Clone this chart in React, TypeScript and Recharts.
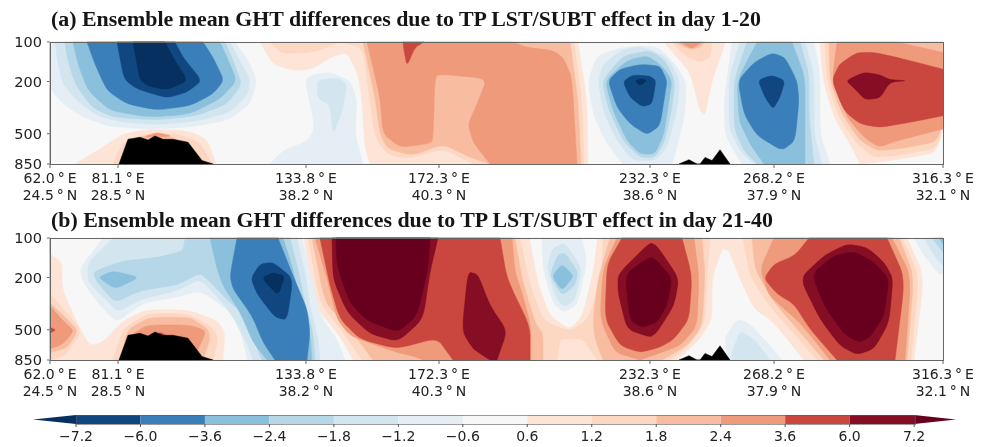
import { Bar, BarChart, Scatter, ScatterChart, XAxis, YAxis } from 'recharts';

type Pt = [number, number];
type Layer = [string, Pt[]];

// x = distance along the section (grid units), y = pressure (hPa)
const sectionTicks = [0, 68, 256, 389, 600, 724, 893];
const lonLabels = ['62.0', '81.1', '133.8', '172.3', '232.3', '268.2', '316.3'];
const latLabels = ['24.5', '28.5', '38.2', '40.3', '38.6', '37.9', '32.1'];
const pressureTicks = [100, 200, 500, 850];
const cbLevels = ['−7.2', '−6.0', '−3.6', '−2.4', '−1.8', '−1.2', '−0.6', '0.6', '1.2', '1.8', '2.4', '3.6', '6.0', '7.2'];
const cbColors = ['#05305f', '#114781', '#3a7fb9', '#8bc0dd', '#b6d7e8', '#d3e6f0', '#e4eef4', '#f7f7f7', '#fde4d6', '#fcd7c2', '#f8bda1', '#ef9a7a', '#c9473f', '#850d24', '#67001f'];
const [N72, N60, N36, N24, N18, N12, N06, ZERO, P06, P12, P18, P24, P36, P60, P72] = cbColors;
const BLACK = '#000000';

const terrainWest: Pt[] = [[69, 850], [78, 551], [90, 532], [98, 558], [105, 520], [113, 551], [123, 551], [138, 580], [152, 800], [163, 850]];
const terrainEast: Pt[] = [[629, 850], [639, 788], [647, 850], [650, 850], [655, 757], [662, 800], [670, 662], [680, 850]];
const wholePlot: Pt[] = [[0, 100], [893, 100], [893, 850], [0, 850]];

// panel (a), day 1-20
const a1N06: Pt[] = [[0, 100], [0, 224], [13, 297], [33, 374], [60, 441], [97, 460], [137, 448], [177, 397], [200, 297], [207, 197], [198, 138], [185, 100]];
const a1N12: Pt[] = [[5, 100], [8, 148], [13, 209], [27, 279], [47, 364], [73, 409], [107, 426], [147, 402], [180, 343], [198, 249], [200, 192], [188, 131], [180, 100]];
const a1N18: Pt[] = [[15, 100], [17, 131], [25, 209], [42, 315], [63, 374], [107, 393], [147, 364], [177, 297], [192, 209], [183, 138], [175, 100]];
const a1N24: Pt[] = [[23, 100], [28, 148], [38, 234], [60, 334], [100, 374], [140, 354], [170, 271], [187, 197], [177, 131], [170, 100]];
const a1N36: Pt[] = [[37, 100], [45, 148], [57, 234], [77, 297], [107, 330], [140, 306], [163, 249], [174, 195], [163, 131], [153, 100]];
const a1N60: Pt[] = [[67, 100], [74, 192], [87, 228], [117, 267], [137, 241], [152, 197], [133, 131], [125, 100]];
const a1N72: Pt[] = [[83, 100], [90, 197], [100, 219], [117, 231], [138, 197], [123, 131], [115, 100]];
const a1P06: Pt[] = [[25, 850], [50, 652], [73, 502], [100, 460], [137, 474], [157, 548], [166, 850]];
const a1P12: Pt[] = [[63, 850], [73, 580], [97, 500], [127, 502], [150, 580], [162, 850]];
const a1P18: Pt[] = [[70, 850], [83, 548], [103, 502], [127, 548], [143, 672], [150, 850]];
const a1P24: Pt[] = [[93, 532], [107, 487], [123, 525]];
const a2N06: Pt[] = [[220, 850], [233, 672], [258, 565], [265, 448], [255, 197], [262, 177], [280, 170], [300, 197], [307, 279], [305, 502], [313, 850]];
const a2N12: Pt[] = [[267, 197], [268, 270], [280, 304], [283, 514], [292, 341], [297, 214], [290, 190], [280, 190]];
const a3P06: Pt[] = [[210, 100], [223, 148], [243, 165], [263, 161], [280, 131], [297, 120], [308, 175], [312, 279], [315, 634], [320, 850], [538, 850], [537, 279], [528, 100]];
const a3P12: Pt[] = [[220, 100], [233, 123], [265, 119], [290, 100], [313, 110], [320, 279], [325, 532], [337, 713], [357, 777], [393, 652], [413, 777], [423, 850], [534, 850], [532, 279], [524, 100]];
const a3P18: Pt[] = [[313, 100], [325, 264], [330, 502], [338, 652], [363, 733], [393, 598], [420, 757], [440, 850], [531, 850], [528, 279], [520, 100]];
const a3P24: Pt[] = [[317, 100], [330, 264], [333, 502], [350, 634], [377, 598], [383, 565], [385, 180], [395, 177], [437, 190], [427, 297], [418, 421], [423, 580], [440, 850], [527, 850], [522, 186], [513, 131], [503, 116], [477, 110], [463, 100]];
const a3P36: Pt[] = [[353, 100], [374, 100], [365, 110], [357, 152], [354, 116]];
const a4N06: Pt[] = [[575, 108], [547, 127], [538, 197], [543, 354], [557, 598], [573, 850], [622, 850], [627, 634], [635, 354], [636, 197], [622, 138], [607, 108]];
const a4N12: Pt[] = [[553, 148], [548, 197], [553, 334], [567, 565], [583, 800], [605, 800], [617, 634], [627, 334], [630, 197], [617, 131], [593, 108], [573, 113]];
const a4N18: Pt[] = [[552, 197], [558, 315], [573, 565], [590, 757], [605, 757], [615, 565], [622, 315], [625, 197], [615, 138], [600, 116], [573, 127]];
const a4N24: Pt[] = [[555, 197], [563, 334], [577, 565], [590, 713], [605, 713], [614, 502], [619, 279], [622, 197], [612, 152], [597, 127], [577, 138]];
const a4N36: Pt[] = [[558, 197], [567, 315], [580, 421], [597, 510], [610, 433], [615, 249], [617, 197], [610, 152], [590, 148], [570, 161]];
const a4N60: Pt[] = [[573, 200], [580, 264], [592, 311], [602, 297], [606, 197], [600, 182], [583, 178]];
const a4N72: Pt[] = [[585, 197], [590, 215], [597, 197], [592, 190]];
const a5P06: Pt[] = [[614, 100], [627, 131], [640, 170], [650, 334], [655, 364], [662, 197], [675, 103], [675, 100]];
const a5P12: Pt[] = [[622, 100], [635, 127], [650, 143], [660, 131], [662, 100]];
const a5P18: Pt[] = [[625, 100], [640, 114], [650, 110], [655, 100]];
const a5P24: Pt[] = [[630, 100], [642, 113], [652, 100]];
const a6N06: Pt[] = [[682, 100], [674, 279], [675, 502], [684, 680], [692, 850], [780, 850], [770, 502], [770, 175], [764, 100]];
const a6N12: Pt[] = [[690, 100], [679, 186], [679, 448], [690, 680], [704, 850], [772, 850], [764, 502], [764, 175], [755, 100]];
const a6N18: Pt[] = [[697, 100], [684, 197], [684, 448], [694, 680], [707, 850], [764, 850], [759, 374], [759, 175], [750, 100]];
const a6N24: Pt[] = [[707, 100], [687, 197], [689, 397], [700, 600], [714, 850], [755, 850], [755, 374], [755, 186], [742, 100]];
const a6N36: Pt[] = [[722, 121], [704, 143], [688, 197], [694, 354], [707, 517], [732, 672], [745, 565], [749, 279], [747, 197], [735, 131]];
const a6N60: Pt[] = [[708, 195], [722, 179], [735, 197], [730, 264], [723, 325], [715, 264]];
const a7P06: Pt[] = [[770, 100], [773, 197], [784, 374], [800, 598], [810, 850], [840, 800], [892, 690], [893, 100]];
const a7P12: Pt[] = [[775, 100], [777, 197], [789, 374], [807, 598], [824, 757], [847, 733], [892, 634], [893, 100]];
const a7P18: Pt[] = [[779, 100], [780, 197], [792, 354], [810, 565], [827, 672], [850, 652], [892, 565], [893, 100]];
const a7P24: Pt[] = [[787, 100], [782, 197], [797, 374], [814, 532], [829, 634], [847, 565], [893, 460], [893, 120], [847, 100]];
const a7P36: Pt[] = [[782, 197], [789, 148], [807, 120], [824, 120], [847, 131], [893, 161], [893, 364], [860, 409], [830, 448], [810, 421], [794, 334]];
const a7P60: Pt[] = [[796, 197], [805, 228], [815, 275], [830, 267], [840, 202], [857, 197], [840, 194], [829, 177], [814, 170]];

// panel (b), day 21-40
const b1P06: Pt[] = [[0, 132], [12, 153], [12, 245], [30, 495], [40, 661], [53, 623], [73, 426], [97, 352], [137, 352], [167, 426], [175, 522], [173, 850], [0, 850]];
const b1P12: Pt[] = [[0, 267], [15, 362], [32, 510], [15, 790], [0, 850]];
const b1P18: Pt[] = [[0, 312], [17, 415], [28, 510], [17, 688], [0, 745]];
const b1P24: Pt[] = [[0, 330], [13, 426], [24, 510], [13, 642], [0, 700]];
const b1P36: Pt[] = [[0, 479], [6, 502], [0, 530]];
const b2P12: Pt[] = [[63, 850], [73, 495], [97, 378], [137, 378], [163, 479], [168, 590], [163, 850]];
const b2P18: Pt[] = [[70, 850], [78, 495], [100, 402], [140, 402], [158, 495], [160, 590], [153, 850]];
const b2P24: Pt[] = [[70, 850], [83, 538], [97, 460], [140, 460], [156, 510], [150, 661], [142, 850]];
const b2P36: Pt[] = [[110, 522], [118, 561], [105, 561]];
const b3N06: Pt[] = [[53, 100], [30, 170], [33, 217], [50, 327], [67, 440], [93, 312], [127, 282], [150, 252], [170, 318], [187, 415], [195, 700], [197, 850], [295, 850], [287, 590], [270, 390], [262, 205], [252, 100]];
const b3N12: Pt[] = [[63, 100], [38, 153], [38, 217], [57, 300], [68, 367], [90, 295], [127, 252], [150, 205], [170, 295], [183, 400], [198, 661], [203, 850], [270, 850], [268, 590], [260, 327], [255, 181], [247, 100]];
const b3N18: Pt[] = [[135, 100], [133, 125], [110, 140], [73, 149], [43, 181], [47, 217], [65, 311], [90, 252], [127, 228], [150, 185], [160, 217], [180, 312], [197, 390], [207, 700], [212, 850], [265, 850], [263, 522], [255, 312], [248, 172], [240, 100]];
const b3N24: Pt[] = [[160, 100], [167, 172], [173, 231], [190, 367], [203, 623], [217, 850], [262, 850], [260, 522], [250, 312], [243, 172], [233, 100]];
const b3N24Patch: Pt[] = [[48, 199], [63, 178], [90, 199], [65, 245]];
const b3N36: Pt[] = [[187, 100], [180, 194], [183, 245], [202, 390], [213, 623], [225, 850], [257, 850], [260, 522], [257, 347], [243, 194], [228, 100]];
const b3N60: Pt[] = [[201, 203], [210, 158], [223, 153], [243, 203], [237, 421], [225, 402], [207, 267]];
const b3N72: Pt[] = [[212, 202], [222, 184], [235, 194], [228, 275]];
const b4P06: Pt[] = [[254, 100], [265, 327], [292, 590], [303, 850], [627, 850], [650, 590], [662, 415], [662, 205], [672, 120], [679, 125], [690, 205], [704, 347], [722, 426], [754, 850], [864, 850], [874, 194], [857, 100]];
const b4P12: Pt[] = [[258, 100], [270, 312], [293, 522], [312, 850], [507, 850], [510, 590], [520, 580], [533, 590], [542, 745], [547, 850], [620, 850], [639, 661], [655, 440], [657, 181], [660, 100], [553, 100], [552, 205], [538, 415], [520, 515], [493, 426], [480, 231], [470, 100]];
const b4P18: Pt[] = [[262, 100], [275, 312], [298, 472], [323, 850], [493, 850], [493, 538], [485, 440], [472, 205], [465, 100]];
const b4P18East: Pt[] = [[560, 100], [548, 205], [543, 415], [545, 590], [553, 850], [612, 850], [637, 660], [652, 472], [655, 194], [652, 100]];
const b4P24: Pt[] = [[265, 100], [278, 217], [287, 415], [300, 555], [327, 661], [347, 745], [365, 800], [373, 850], [481, 850], [481, 472], [472, 260], [465, 181], [462, 100]];
const b4P24East: Pt[] = [[567, 100], [553, 172], [550, 415], [565, 745], [590, 850], [607, 765], [630, 661], [647, 472], [649, 194], [644, 100]];
const b4P36: Pt[] = [[270, 100], [280, 231], [290, 415], [310, 590], [347, 700], [387, 577], [403, 850], [480, 850], [480, 472], [457, 205], [450, 100]];
const b4P36East: Pt[] = [[572, 100], [557, 158], [555, 415], [570, 661], [590, 745], [610, 680], [624, 590], [639, 415], [642, 194], [632, 100]];
const b4P60: Pt[] = [[282, 100], [283, 205], [297, 367], [320, 538], [348, 616], [373, 415], [380, 181], [388, 100]];
const b4P72: Pt[] = [[286, 100], [287, 163], [300, 312], [317, 426], [348, 522], [367, 390], [378, 172], [380, 100]];
const b4P60South: Pt[] = [[418, 181], [428, 190], [440, 327], [457, 510], [447, 850], [440, 850], [423, 700], [412, 510]];
const b4P60East: Pt[] = [[568, 188], [600, 108], [607, 115], [629, 203], [624, 327], [607, 522], [600, 570], [577, 495], [568, 260]];
const b4P72East: Pt[] = [[575, 188], [600, 139], [607, 149], [622, 203], [617, 327], [607, 440], [592, 479], [580, 426]];
const b5Zero: Pt[] = [[480, 100], [488, 217], [500, 390], [520, 495], [532, 390], [543, 181], [547, 100]];
const b5N06: Pt[] = [[492, 100], [493, 172], [503, 312], [513, 367], [527, 327], [537, 153], [532, 100]];
const b5N12: Pt[] = [[502, 120], [497, 172], [507, 295], [515, 335], [525, 295], [532, 172], [515, 108]];
const b5N18: Pt[] = [[507, 136], [500, 194], [512, 275], [525, 231], [528, 181], [515, 129]];
const b5N24: Pt[] = [[502, 195], [512, 158], [524, 195], [512, 252]];
const b6P12: Pt[] = [[693, 100], [700, 194], [717, 312], [740, 495], [767, 850], [861, 850], [869, 194], [852, 100]];
const b6P18: Pt[] = [[702, 100], [705, 172], [722, 295], [745, 472], [774, 850], [857, 850], [864, 194], [849, 100]];
const b6P24: Pt[] = [[724, 100], [710, 172], [719, 275], [750, 440], [780, 850], [855, 850], [861, 194], [842, 100]];
const b6P36: Pt[] = [[759, 100], [745, 136], [724, 158], [714, 203], [727, 267], [744, 318], [760, 495], [787, 850], [845, 850], [855, 203], [837, 100]];
const b6P60: Pt[] = [[750, 203], [774, 136], [797, 111], [817, 118], [834, 153], [843, 203], [839, 440], [824, 700], [807, 774], [790, 661], [770, 415]];
const b6P72: Pt[] = [[762, 188], [784, 136], [804, 127], [824, 153], [839, 205], [834, 390], [820, 570], [809, 623], [794, 538], [774, 327]];
const b6N06: Pt[] = [[674, 590], [687, 415], [700, 450], [720, 661], [732, 850], [679, 850]];
const b6N12: Pt[] = [[682, 745], [690, 510], [704, 590], [720, 850], [682, 850]];
const b7N06: Pt[] = [[864, 100], [874, 136], [889, 188], [893, 188], [893, 100]];
const b7N12: Pt[] = [[874, 100], [884, 136], [893, 163], [893, 100]];
const b7N18: Pt[] = [[882, 100], [893, 129], [893, 100]];
const b7N24: Pt[] = [[889, 100], [893, 111], [893, 100]];

const layersA: Layer[] = [
  [ZERO, wholePlot],
  [P06, a1P06], [P12, a1P12], [P18, a1P18], [P24, a1P24],
  [N06, a2N06], [N12, a2N12],
  [P06, a3P06], [P12, a3P12], [P18, a3P18], [P24, a3P24], [P36, a3P36],
  [N06, a1N06], [N12, a1N12], [N18, a1N18], [N24, a1N24], [N36, a1N36], [N60, a1N60], [N72, a1N72],
  [N06, a4N06], [N12, a4N12], [N18, a4N18], [N24, a4N24], [N36, a4N36], [N60, a4N60], [N72, a4N72],
  [P06, a5P06], [P12, a5P12], [P18, a5P18], [P24, a5P24],
  [N06, a6N06], [N12, a6N12], [N18, a6N18], [N24, a6N24], [N36, a6N36], [N60, a6N60],
  [P06, a7P06], [P12, a7P12], [P18, a7P18], [P24, a7P24], [P36, a7P36], [P60, a7P60],
  [BLACK, terrainWest], [BLACK, terrainEast],
];

const layersB: Layer[] = [
  [ZERO, wholePlot],
  [P06, b1P06], [P06, b4P06],
  [ZERO, b5Zero],
  [P12, b1P12], [P12, b2P12], [P12, b4P12], [P12, b6P12],
  [P18, b1P18], [P18, b2P18], [P18, b4P18], [P18, b4P18East], [P18, b6P18],
  [P24, b1P24], [P24, b2P24], [P24, b4P24], [P24, b4P24East], [P24, b6P24],
  [P36, b1P36], [P36, b2P36], [P36, b4P36], [P36, b4P36East], [P36, b6P36],
  [P60, b4P60], [P60, b4P60South], [P60, b4P60East], [P60, b6P60],
  [P72, b4P72], [P72, b4P72East], [P72, b6P72],
  [N06, b3N06], [N12, b3N12], [N18, b3N18], [N24, b3N24], [N24, b3N24Patch], [N36, b3N36], [N60, b3N60], [N72, b3N72],
  [N06, b5N06], [N12, b5N12], [N18, b5N18], [N24, b5N24],
  [N06, b6N06], [N12, b6N12],
  [N06, b7N06], [N12, b7N12], [N18, b7N18], [N24, b7N24],
  [BLACK, terrainWest], [BLACK, terrainEast],
];

const SANS = '"DejaVu Sans", sans-serif';
const noShape = () => <g />;
const PLOT = { left: 50, right: 943, top: 10, bottom: 132 };

// closed curve for the contour fills: rounds inner vertices, keeps the ones on the plot frame sharp
function roundedContour(context: any) {
  let pts: Pt[] = [];
  const onFrame = ([x, y]: Pt) =>
    x <= PLOT.left + 0.5 || x >= PLOT.right - 0.5 || y <= PLOT.top + 0.5 || y >= PLOT.bottom - 0.5;
  return {
    areaStart() {},
    areaEnd() {},
    lineStart() {
      pts = [];
    },
    point(x: number, y: number) {
      pts.push([+x, +y]);
    },
    lineEnd() {
      const n = pts.length;
      const k = 0.28;
      pts.forEach((v, i) => {
        const prev = pts[(i + n - 1) % n];
        const next = pts[(i + 1) % n];
        const inX = v[0] + (prev[0] - v[0]) * k;
        const inY = v[1] + (prev[1] - v[1]) * k;
        const outX = v[0] + (next[0] - v[0]) * k;
        const outY = v[1] + (next[1] - v[1]) * k;
        if (onFrame(v)) {
          if (i === 0) context.moveTo(v[0], v[1]);
          else context.lineTo(v[0], v[1]);
        } else {
          if (i === 0) context.moveTo(inX, inY);
          else context.lineTo(inX, inY);
          context.quadraticCurveTo(v[0], v[1], outX, outY);
        }
      });
      context.closePath();
    },
  };
}

function SectionTick({ x, y, payload }: any) {
  const i = sectionTicks.indexOf(payload.value);
  return (
    <text x={x} textAnchor="middle" fontFamily={SANS} fontSize={14} fill="#222">
      <tspan x={x} y={y + 12.5}>
        {lonLabels[i]}
        <tspan dx={3}>°</tspan>
        <tspan dx={3}>E</tspan>
      </tspan>
      <tspan x={x} y={y + 30}>
        {latLabels[i]}
        <tspan dx={3}>°</tspan>
        <tspan dx={3}>N</tspan>
      </tspan>
    </text>
  );
}

function Panel({ top, titleTop, title, layers }: { top: number; titleTop: number; title: string; layers: Layer[] }) {
  return (
    <>
      <div
        style={{
          position: 'absolute',
          left: 51,
          top: titleTop,
          fontFamily: '"Liberation Serif", serif',
          fontWeight: 700,
          fontSize: 21.9,
          lineHeight: '24px',
          whiteSpace: 'nowrap',
          color: '#151515',
        }}
      >
        {title}
      </div>
      <div style={{ position: 'absolute', left: 0, top: top }}>
        <ScatterChart width={987} height={172} margin={{ top: 10, right: 44, bottom: 0, left: 0 }}>
          <XAxis
            type="number"
            dataKey="x"
            domain={[0, 893]}
            ticks={sectionTicks}
            interval={0}
            height={40}
            tickSize={4}
            tick={<SectionTick />}
            stroke="#666"
          />
          <YAxis
            type="number"
            dataKey="p"
            scale="log"
            domain={[100, 850]}
            ticks={pressureTicks}
            interval={0}
            reversed
            width={50}
            tickSize={3}
            tickMargin={5}
            stroke="#666"
            tick={{ fontFamily: SANS, fontSize: 14.5, fill: '#222' }}
          />
          {layers.map(([color, pts], i) => (
            <Scatter
              key={i}
              data={pts.map(([x, p]) => ({ x, p }))}
              fill={color}
              shape={noShape}
              line={{ fill: color, stroke: color, strokeWidth: 0.5 }}
              lineJointType={color === BLACK ? 'linearClosed' : (roundedContour as any)}
              isAnimationActive={false}
            />
          ))}
        </ScatterChart>
      </div>
      <div
        style={{
          position: 'absolute',
          left: 50,
          top: top + 10,
          width: 892,
          height: 121,
          border: '1px solid #666',
          pointerEvents: 'none',
        }}
      />
    </>
  );
}

// colour bar: equal-width boxes with pointed ends
const cbRow: Record<string, number> = { name: 0 };
cbColors.forEach((_, i) => {
  cbRow[`s${i}`] = i === 0 ? 0.667 : i === cbColors.length - 1 ? 0.65 : 1;
});
const cbTicks = cbLevels.map((_, i) => 0.667 + i);

function LeftTip({ x, y, width, height, fill }: any) {
  return <path d={`M${x},${y + height / 2}L${x + width},${y}V${y + height}Z`} fill={fill} />;
}
function RightTip({ x, y, width, height, fill }: any) {
  return <path d={`M${x},${y}L${x + width},${y + height / 2}L${x},${y + height}Z`} fill={fill} />;
}

function ColorBar() {
  return (
    <div style={{ position: 'absolute', left: 0, top: 410 }}>
      <BarChart
        width={987}
        height={37}
        layout="vertical"
        data={[cbRow]}
        barCategoryGap={0}
        margin={{ top: 5, right: 31, bottom: 0, left: 33 }}
      >
        <XAxis
          type="number"
          domain={[0, 14.317]}
          ticks={cbTicks}
          interval={0}
          height={23}
          tickSize={3}
          tickMargin={4}
          axisLine={false}
          stroke="#555"
          tickFormatter={(v: number) => cbLevels[Math.round(v - 0.667)]}
          tick={{ fontFamily: SANS, fontSize: 14, fill: '#222' }}
        />
        <YAxis type="category" dataKey="name" hide />
        {cbColors.map((color, i) => (
          <Bar
            key={i}
            dataKey={`s${i}`}
            stackId="cb"
            fill={color}
            isAnimationActive={false}
            shape={i === 0 ? <LeftTip /> : i === cbColors.length - 1 ? <RightTip /> : undefined}
          />
        ))}
      </BarChart>
      <div style={{ position: 'absolute', left: 76, top: 5, width: 838, height: 8, border: '1px solid rgba(90,90,90,0.6)', pointerEvents: 'none' }} />
    </div>
  );
}

export default function App() {
  return (
    <div
      style={{
        position: 'absolute',
        left: 0,
        top: 0,
        width: 987,
        height: 447,
        background: '#fff',
        overflow: 'hidden',
        filter: 'blur(0.4px)',
      }}
    >
      <Panel top={32} titleTop={6.6} title="(a) Ensemble mean GHT differences due to TP LST/SUBT effect in day 1-20" layers={layersA} />
      <Panel top={228} titleTop={208.3} title="(b) Ensemble mean GHT differences due to TP LST/SUBT effect in day 21-40" layers={layersB} />
      <ColorBar />
    </div>
  );
}
